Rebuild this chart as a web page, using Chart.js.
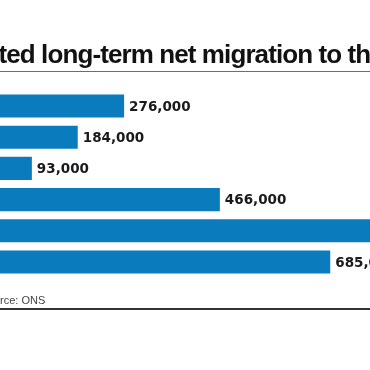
<!DOCTYPE html>
<html>
<head>
<meta charset="utf-8">
<script src="https://cdn.jsdelivr.net/npm/chart.js@4.4.1/dist/chart.umd.min.js"></script>
<style>
  html, body { margin: 0; padding: 0; background: #fff; }
  #frame { position: absolute; left: 0; top: 0; width: 370px; height: 370px; overflow: hidden; background: #fff; }
  #holder { position: absolute; left: -100px; top: 0; width: 600px; height: 370px; }
</style>
</head>
<body>
<div id="frame"><div id="holder"><canvas id="c" width="600" height="370"></canvas></div></div>
<script>
// Data
const categories = ['2018', '2019', '2020', '2021', '2022', '2023'];
const netMigration = [276000, 184000, 93000, 466000, 764000, 685000];
const titleText = 'Estimated long-term net migration to the UK';
const sourceText = 'Source: ONS';

const OFFSET = 100; // canvas x that sits at the page's left edge

const decorPlugin = {
  id: 'decor',
  afterDatasetsDraw(chart) {
    const ctx = chart.ctx;
    const W = chart.width;
    ctx.save();
    // Title
    ctx.font = 'bold 26px "Liberation Sans", Arial, sans-serif';
    ctx.letterSpacing = '-0.9px';
    ctx.fillStyle = '#111';
    ctx.textBaseline = 'alphabetic';
    ctx.textAlign = 'left';
    const pre = ctx.measureText('Estima').width;
    ctx.fillText(titleText, OFFSET - pre - 1.5, 62.5);
    // Title rule
    ctx.fillStyle = '#6e6e6e';
    ctx.fillRect(0, 71, W, 1);
    // Value labels
    ctx.font = 'bold 13.5px "DejaVu Sans", sans-serif';
    ctx.letterSpacing = '0px';
    ctx.fillStyle = '#1a1a1a';
    const meta = chart.getDatasetMeta(0);
    meta.data.forEach((bar, i) => {
      const v = chart.data.datasets[0].data[i];
      ctx.fillText(v.toLocaleString('en-US'), bar.x + 5, bar.y + 4.5);
    });
    // Source
    ctx.font = '11px "Liberation Sans", Arial, sans-serif';
    ctx.fillStyle = '#444';
    const sw = ctx.measureText('Sou').width;
    ctx.fillText(sourceText, OFFSET - sw, 304);
    // Bottom rule
    ctx.fillStyle = '#333';
    ctx.fillRect(0, 308, W, 2);
    ctx.restore();
  }
};

new Chart(document.getElementById('c'), {
  type: 'bar',
  data: {
    labels: categories,
    datasets: [{
      data: netMigration,
      backgroundColor: '#0a7bbd',
      borderWidth: 0,
      barPercentage: 0.74,
      categoryPercentage: 1
    }]
  },
  options: {
    indexAxis: 'y',
    responsive: false,
    devicePixelRatio: 1,
    animation: false,
    layout: { padding: { left: 85, right: 61.4, top: 90.4, bottom: 92.4 } },
    scales: {
      x: { display: false, min: 0, max: 900000 },
      y: { display: false }
    },
    plugins: { legend: { display: false }, tooltip: { enabled: false }, title: { display: false } }
  },
  plugins: [decorPlugin]
});
</script>
</body>
</html>
